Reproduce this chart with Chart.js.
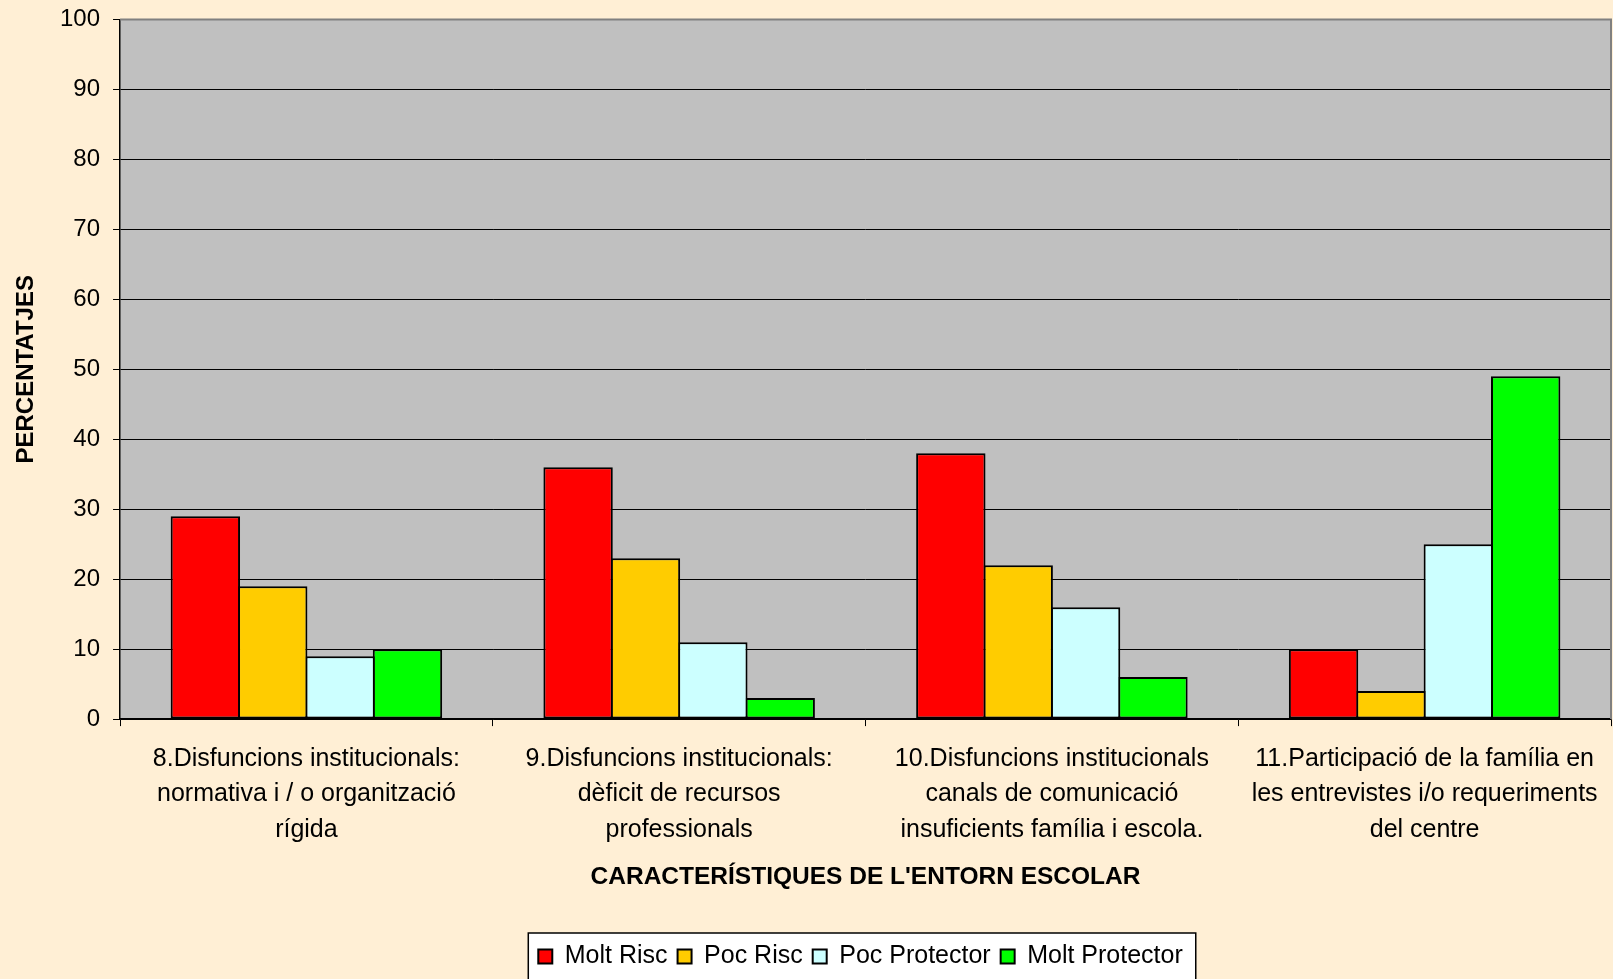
<!DOCTYPE html>
<html>
<head>
<meta charset="utf-8">
<script src="https://cdn.jsdelivr.net/npm/chart.js@4/dist/chart.umd.min.js"></script>
<style>
  html, body { margin: 0; padding: 0; background: #FFEFD5; }
  canvas { display: block; }
</style>
</head>
<body>
<canvas id="c" width="1613" height="979"></canvas>
<script>
const categories = [
  ["8.Disfuncions institucionals:", "normativa i / o organització", "rígida"],
  ["9.Disfuncions institucionals:", "dèficit de recursos", "professionals"],
  ["10.Disfuncions institucionals", "canals de comunicació", "insuficients família i escola."],
  ["11.Participació de la família en", "les entrevistes i/o requeriments", "del centre"]
];
const seriesNames = ["Molt Risc", "Poc Risc", "Poc Protector", "Molt Protector"];
const moltRisc = [29, 36, 38, 10];
const pocRisc = [19, 23, 22, 4];
const pocProtector = [9, 11, 16, 25];
const moltProtector = [10, 3, 6, 49];
const seriesColors = ["#FF0000", "#FFCC00", "#CCFFFF", "#00FF00"];
const yTitle = "PERCENTATJES";
const xTitle = "CARACTERÍSTIQUES DE L'ENTORN ESCOLAR";

Chart.defaults.font.family = "'Liberation Sans', Arial, sans-serif";
Chart.defaults.color = "#000";

const seriesValues = [moltRisc, pocRisc, pocProtector, moltProtector];
const datasets = seriesNames.map((name, i) => ({
  label: name,
  data: seriesValues[i],
  backgroundColor: seriesColors[i],
  borderColor: "#000",
  borderWidth: 2,
  borderSkipped: false,
  categoryPercentage: 0.723,
  barPercentage: 1.03
}));

const LEGEND_PAD = 10;

const decor = {
  id: 'decor',
  afterLayout(chart) {
    const lg = chart.legend, a = chart.chartArea;
    if (!lg) return;
    const shift = (a.left + a.right) / 2 - (lg.left + lg.right) / 2 - 5;
    lg.left += shift;
    lg.right += shift;
  },
  beforeDraw(chart) {
    const { ctx, chartArea: a } = chart;
    ctx.save();
    ctx.fillStyle = '#FFEFD5';
    ctx.fillRect(0, 0, chart.width, chart.height);
    ctx.fillStyle = '#C0C0C0';
    ctx.fillRect(a.left, a.top, a.right - a.left, a.bottom - a.top);
    const lg = chart.legend;
    if (lg && lg.lineWidths) {
      const lw = lg.lineWidths[0];
      const start = (lg.left + LEGEND_PAD + lg.right - lw) / 2;
      const x0 = start - 10;
      const x1 = start + lw - LEGEND_PAD + 13;
      const y0 = lg.top - 1;
      ctx.fillStyle = '#FFFFFF';
      ctx.fillRect(x0, y0, x1 - x0, chart.height);
      ctx.strokeStyle = '#000';
      ctx.lineWidth = 1.5;
      ctx.strokeRect(x0, y0, x1 - x0, chart.height);
    }
    ctx.restore();
  },
  afterDraw(chart) {
    const { ctx, chartArea: a } = chart;
    ctx.save();
    ctx.strokeStyle = '#808080';
    ctx.lineWidth = 2;
    ctx.beginPath();
    ctx.moveTo(a.left, a.top);
    ctx.lineTo(a.right, a.top);
    ctx.lineTo(a.right, a.bottom);
    ctx.stroke();
    ctx.restore();
  }
};

new Chart(document.getElementById('c'), {
  type: 'bar',
  data: { labels: categories, datasets },
  plugins: [decor],
  options: {
    responsive: false,
    animation: false,
    devicePixelRatio: 1,
    layout: { padding: { top: 19.5, right: 2, bottom: 0, left: 0 } },
    plugins: {
      tooltip: { enabled: false },
      legend: {
        position: 'bottom',
        labels: {
          font: { size: 25 },
          color: '#000',
          boxWidth: 14,
          boxHeight: 14,
          padding: LEGEND_PAD
        }
      }
    },
    scales: {
      x: {
        ticks: {
          font: { size: 25, lineHeight: 1.42 },
          color: '#000',
          padding: 15,
          maxRotation: 0,
          autoSkip: false
        },
        grid: {
          offset: true,
          drawOnChartArea: false,
          drawTicks: true,
          tickLength: 7,
          color: '#000',
          lineWidth: 1
        },
        border: { color: '#000', width: 1.5 },
        title: {
          display: true,
          text: xTitle,
          font: { size: 24.5, weight: 'bold' },
          color: '#000',
          padding: { top: 0, bottom: 42 }
        }
      },
      y: {
        min: 0,
        max: 100,
        afterFit(scale) { scale.paddingTop = 0; },
        ticks: {
          stepSize: 10,
          font: { size: 24 },
          color: '#000',
          padding: 13
        },
        grid: {
          color: '#000',
          lineWidth: 1,
          tickLength: 7,
          drawTicks: true
        },
        border: { color: '#000', width: 1.5 },
        title: {
          display: true,
          text: yTitle,
          font: { size: 24, weight: 'bold' },
          color: '#000',
          padding: { top: 11.6, bottom: 6.6 }
        }
      }
    }
  }
});
</script>
</body>
</html>
